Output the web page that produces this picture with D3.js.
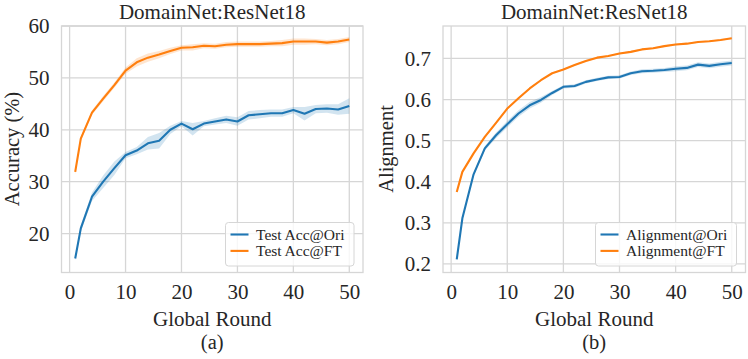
<!DOCTYPE html>
<html>
<head>
<meta charset="utf-8">
<script src="https://d3js.org/d3.v7.min.js"></script>
<style>
  body { margin: 0; background: #fff; }
  svg { display: block; }
  text { font-family: "Liberation Serif", "DejaVu Serif", serif; fill: #262626; }
  .grid line { stroke: #d6d6d6; stroke-width: 1.3; }
  .axis path, .axis line { display: none; }
</style>
</head>
<body>
<svg id="chart" width="748" height="359"></svg>
<script>
// global rounds where values were logged
var rounds = [1, 2, 4, 6, 8, 10, 12, 14, 16, 18, 20, 22, 24, 26, 28, 30, 32, 34, 36, 38, 40, 42, 44, 46, 48, 50];

// (a) test accuracy
var accOri   = [15.2, 21.0, 27.1, 30.0, 32.6, 35.1, 36.0, 37.4, 37.9, 40.0, 41.2, 40.1, 41.2, 41.6, 42.0, 41.6, 42.8, 43.0, 43.2, 43.2, 43.8, 43.1, 44.0, 44.1, 43.9, 44.6];
var accOriSd = [0.4, 0.6, 0.8, 1.2, 1.3, 0.6, 0.7, 1.2, 1.5, 0.8, 0.5, 1.2, 0.5, 0.6, 0.7, 0.8, 0.8, 0.8, 0.7, 0.7, 0.6, 1.3, 0.8, 0.8, 1.0, 1.5];
var accFT    = [31.9, 38.3, 43.3, 46.0, 48.6, 51.4, 53.0, 53.9, 54.5, 55.2, 55.8, 55.9, 56.2, 56.1, 56.4, 56.5, 56.5, 56.5, 56.6, 56.7, 57.0, 57.0, 57.0, 56.8, 57.0, 57.4];
var accFTSd  = [0.5, 0.4, 0.4, 0.5, 0.5, 0.6, 0.8, 0.8, 0.7, 0.6, 0.5, 0.6, 0.5, 0.5, 0.5, 0.5, 0.5, 0.5, 0.5, 0.6, 0.6, 0.6, 0.5, 0.5, 0.5, 0.5];

// (b) alignment
var alignOri   = [0.211, 0.311, 0.418, 0.481, 0.513, 0.540, 0.566, 0.586, 0.599, 0.616, 0.631, 0.633, 0.643, 0.649, 0.654, 0.655, 0.664, 0.669, 0.670, 0.672, 0.675, 0.677, 0.685, 0.682, 0.686, 0.689];
var alignOriSd = [0.002, 0.003, 0.004, 0.005, 0.007, 0.008, 0.008, 0.008, 0.007, 0.005, 0.004, 0.004, 0.004, 0.004, 0.004, 0.004, 0.004, 0.005, 0.005, 0.005, 0.006, 0.006, 0.006, 0.006, 0.006, 0.006];
var alignFT    = [0.375, 0.424, 0.469, 0.509, 0.543, 0.578, 0.603, 0.627, 0.647, 0.664, 0.673, 0.684, 0.694, 0.702, 0.706, 0.712, 0.716, 0.722, 0.725, 0.730, 0.734, 0.736, 0.740, 0.742, 0.745, 0.749];
var alignFTSd  = [0.002, 0.002, 0.002, 0.002, 0.002, 0.002, 0.002, 0.002, 0.002, 0.002, 0.002, 0.002, 0.002, 0.002, 0.002, 0.002, 0.002, 0.002, 0.002, 0.002, 0.002, 0.002, 0.002, 0.002, 0.002, 0.002];

var xTicks = [0, 10, 20, 30, 40, 50];
var accTicks = [20, 30, 40, 50, 60];
var alignTicks = [0.2, 0.3, 0.4, 0.5, 0.6, 0.7];

var blue = "#1f77b4", orange = "#ff7f0e";
var svg = d3.select("#chart");

function drawPanel(p) {
  var x = d3.scaleLinear().domain([-1.45, 52.45]).range([p.left, p.right]);
  var y = d3.scaleLinear().domain(p.yDomain).range([272.5, 26]);
  var g = svg.append("g");

  // grid
  var grid = g.append("g").attr("class", "grid");
  grid.selectAll(".gx").data(xTicks).enter().append("line")
      .attr("x1", function(d) { return x(d); }).attr("x2", function(d) { return x(d); })
      .attr("y1", 26).attr("y2", 272.5);
  grid.selectAll(".gy").data(p.yTicks).enter().append("line")
      .attr("x1", p.left).attr("x2", p.right)
      .attr("y1", function(d) { return y(d); }).attr("y2", function(d) { return y(d); });

  // axes (labels only)
  g.append("g").attr("class", "axis")
      .attr("transform", "translate(0,272.5)")
      .call(d3.axisBottom(x).tickValues(xTicks).tickSize(0).tickPadding(12).tickFormat(d3.format("d")))
      .selectAll("text").attr("font-size", 21).attr("dy", "0.71em");
  g.append("g").attr("class", "axis")
      .attr("transform", "translate(" + p.left + ",0)")
      .call(d3.axisLeft(y).tickValues(p.yTicks).tickSize(0).tickPadding(12).tickFormat(p.fmt))
      .selectAll("text").attr("font-size", 21);
  g.selectAll(".axis text").style("font-family", "Liberation Serif").attr("fill", "#262626");

  // bands + lines
  p.series.forEach(function(s) {
    var pts = rounds.map(function(r, i) { return {r: r, v: s.values[i], sd: s.sd[i]}; });
    g.append("path").datum(pts)
        .attr("fill", s.color).attr("fill-opacity", 0.2)
        .attr("d", d3.area()
          .x(function(d) { return x(d.r); })
          .y0(function(d) { return y(d.v - d.sd); })
          .y1(function(d) { return y(d.v + d.sd); }));
    g.append("path").datum(pts)
        .attr("fill", "none").attr("stroke", s.color).attr("stroke-width", 2.1)
        .attr("stroke-linejoin", "round")
        .attr("d", d3.line().x(function(d) { return x(d.r); }).y(function(d) { return y(d.v); }));
  });

  // frame
  g.append("rect").attr("x", p.left).attr("y", 26)
      .attr("width", p.right - p.left).attr("height", 246.5)
      .attr("fill", "none").attr("stroke", "#d6d6d6").attr("stroke-width", 1.3);

  var cx = (p.left + p.right) / 2;
  g.append("text").attr("x", cx).attr("y", 18.5).attr("text-anchor", "middle")
      .attr("font-size", 21).text("DomainNet:ResNet18");
  g.append("text").attr("x", cx).attr("y", 325.5).attr("text-anchor", "middle")
      .attr("font-size", 21).text("Global Round");
  g.append("text").attr("x", cx).attr("y", 349).attr("text-anchor", "middle")
      .attr("font-size", 20.5).text(p.caption);
  g.append("text").attr("transform", "translate(" + p.yLabelX + ",149)rotate(-90)")
      .attr("text-anchor", "middle").attr("font-size", 20.5).text(p.yLabel);

  // legend
  var lg = g.append("g").attr("transform", "translate(" + p.legX + ",222.5)");
  lg.append("rect").attr("width", p.legW).attr("height", 43.5).attr("rx", 3)
      .attr("fill", "#fff").attr("fill-opacity", 0.8)
      .attr("stroke", "#d6d6d6").attr("stroke-width", 1);
  p.series.forEach(function(s, i) {
    var yy = 12 + i * 16.4;
    lg.append("line").attr("x1", 5).attr("x2", 23).attr("y1", yy).attr("y2", yy)
        .attr("stroke", s.color).attr("stroke-width", 2.1);
    lg.append("text").attr("x", 30.5).attr("y", yy + 5).attr("font-size", 15.5).text(s.name);
  });
}

drawPanel({
  left: 61.5, right: 363, yDomain: [12.5, 60.0], yTicks: accTicks, fmt: d3.format("d"),
  yLabel: "Accuracy (%)", yLabelX: 19, caption: "(a)", legX: 225.5, legW: 128.5,
  series: [
    {name: "Test Acc@Ori", values: accOri, sd: accOriSd, color: blue},
    {name: "Test Acc@FT", values: accFT, sd: accFTSd, color: orange}
  ]
});

drawPanel({
  left: 443, right: 745.5, yDomain: [0.179, 0.779], yTicks: alignTicks, fmt: d3.format(".1f"),
  yLabel: "Alignment", yLabelX: 393, caption: "(b)", legX: 595.5, legW: 141,
  series: [
    {name: "Alignment@Ori", values: alignOri, sd: alignOriSd, color: blue},
    {name: "Alignment@FT", values: alignFT, sd: alignFTSd, color: orange}
  ]
});
</script>
</body>
</html>
